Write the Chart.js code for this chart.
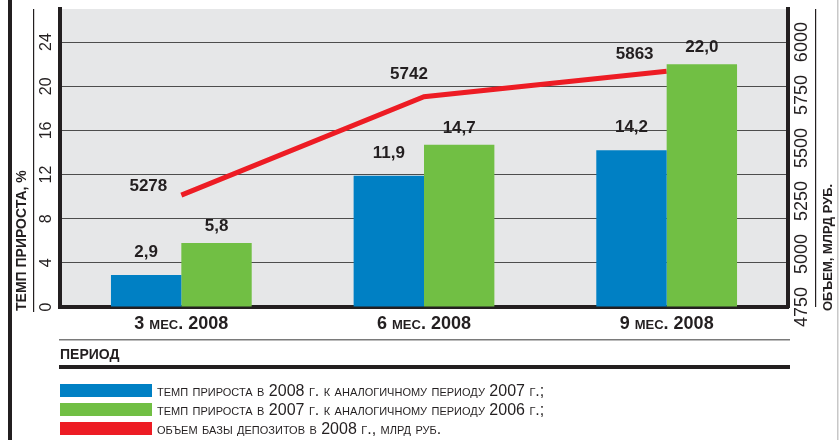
<!DOCTYPE html>
<html>
<head>
<meta charset="utf-8">
<script src="https://cdn.jsdelivr.net/npm/chart.js@4.4.0/dist/chart.umd.min.js"></script>
<style>
	body { margin: 0; background: #fff; }
	#wrap { position: relative; width: 840px; height: 440px; overflow: hidden; }
	#mycanvas { position: absolute; left: 0; top: 0; }
	#legend { position: absolute; left: 60px; top: 381px; color: #231f20;
		font-family: "Liberation Sans Narrow", "Arial Narrow", sans-serif; font-size: 16px; font-variant: small-caps; }
	.row { height: 19px; display: flex; align-items: center; white-space: nowrap; }
	.box { width: 92px; height: 13px; margin-right: 5px; flex: none; }
</style>
</head>
<body>
<div id="wrap">
	<canvas id="mycanvas" width="840" height="440"></canvas>
	<div id="legend"></div>
</div>
<script>
var periods = ['3 мес. 2008', '6 мес. 2008', '9 мес. 2008'];
var growth2008 = [2.9, 11.9, 14.2];
var growth2007 = [5.8, 14.7, 22.0];
var deposits = [5278, 5742, 5863];
var leftTicks = [0, 4, 8, 12, 16, 20, 24];
var rightTicks = [4750, 5000, 5250, 5500, 5750, 6000];
var seriesNames = [
	'темп прироста в 2008 г. к аналогичному периоду 2007 г.;',
	'темп прироста в 2007 г. к аналогичному периоду 2006 г.;',
	'объем базы депозитов в 2008 г., млрд руб.'
];
var leftTitle = 'ТЕМП ПРИРОСТА, %';
var rightTitle = 'ОБЪЕМ, МЛРД РУБ.';
var xTitle = 'ПЕРИОД';

var BLUE = '#0080c4', GREEN = '#71bf44', RED = '#ed1c24', INK = '#231f20';
var NARROW = '"Liberation Sans Narrow", "Arial Narrow", sans-serif';
var SANS = '"Liberation Sans", Arial, sans-serif';

// legend (html)
var colors = [BLUE, GREEN, RED];
var lg = document.getElementById('legend');
for (var i = 0; i < seriesNames.length; i++) {
	var row = document.createElement('div');
	row.className = 'row';
	row.innerHTML = '<span class="box" style="background:' + colors[i] + '"></span><span>' + seriesNames[i] + '</span>';
	lg.appendChild(row);
}

function fmt(v) { return v.toFixed(1).replace('.', ','); }

function vText(c, txt, x, y, align) {
	c.save();
	c.translate(x, y);
	c.rotate(-Math.PI / 2);
	c.textAlign = align;
	c.textBaseline = 'middle';
	c.fillText(txt, 0, 0);
	c.restore();
}

var lineLabelOffsets = [[-33, -9], [-15, -22], [-32, -17]];
var barLabelGap = [14, 8];

var extras = {
	id: 'extras',
	beforeDraw: function(chart) {
		var a = chart.chartArea, c = chart.ctx;
		c.save();
		c.fillStyle = '#e6e7e8';
		c.fillRect(a.left, a.top, a.right - a.left, a.bottom - a.top);
		c.restore();
	},
	afterDatasetsDraw: function(chart) {
		var c = chart.ctx;
		c.save();
		c.fillStyle = INK;
		c.font = 'bold 17px ' + SANS;
		c.textAlign = 'center';
		c.textBaseline = 'bottom';
		[0, 1].forEach(function(d) {
			var meta = chart.getDatasetMeta(d);
			meta.data.forEach(function(bar, i) {
				c.fillText(fmt(chart.data.datasets[d].data[i]), bar.x, bar.y - barLabelGap[d]);
			});
		});
		c.textBaseline = 'middle';
		chart.getDatasetMeta(2).data.forEach(function(pt, i) {
			c.fillText(String(deposits[i]), pt.x + lineLabelOffsets[i][0], pt.y + lineLabelOffsets[i][1]);
		});
		c.restore();
	},
	afterDraw: function(chart) {
		var c = chart.ctx, a = chart.chartArea;
		var y = chart.scales.y, y1 = chart.scales.y1, x = chart.scales.x;
		c.save();
		c.fillStyle = INK;
		// tick labels
		c.font = '16px ' + SANS;
		leftTicks.forEach(function(v) { vText(c, String(v), a.left - 13, y.getPixelForValue(v), 'center'); });
		c.font = '18px ' + SANS;
		rightTicks.forEach(function(v) { vText(c, String(v), a.right + 14, y1.getPixelForValue(v), 'center'); });
		// axis titles
		c.font = 'bold 14px ' + NARROW;
		vText(c, leftTitle, 22, a.bottom + 4, 'left');
		c.font = 'bold 13px ' + NARROW;
		vText(c, rightTitle, 828, a.bottom + 4, 'left');
		// category labels
		c.font = 'bold 18px ' + NARROW;
		c.fontVariantCaps = 'small-caps';
		c.textAlign = 'center';
		c.textBaseline = 'middle';
		periods.forEach(function(p, i) { c.fillText(p, x.getPixelForValue(i), a.bottom + 17); });
		c.fontVariantCaps = 'normal';
		c.font = 'bold 14px ' + NARROW;
		c.textAlign = 'left';
		c.fillText(xTitle, a.left, a.bottom + 48);
		// frame lines
		c.fillStyle = INK;
		c.fillRect(8, 0, 4, 440);
		c.fillRect(33, a.top, 1.2, a.bottom - a.top + 5);
		c.fillRect(815, a.top, 1.2, a.bottom - a.top);
		c.fillStyle = '#c8c8c8';
		c.fillRect(837, 0, 1.5, 440);
		c.fillStyle = '#7a7a7a';
		c.fillRect(a.left - 1, a.bottom + 32, a.right - a.left + 3, 1.5);
		c.fillStyle = INK;
		c.fillRect(a.left - 1, a.bottom + 58, a.right - a.left + 3, 4);
		c.restore();
	}
};

var ctx = document.getElementById('mycanvas');

var chart = new Chart(ctx, {
	type: 'bar',
	data: {
		labels: periods,
		datasets: [
			{ label: seriesNames[0], data: growth2008, backgroundColor: BLUE, yAxisID: 'y', order: 1,
				barPercentage: 1, categoryPercentage: 0.58 },
			{ label: seriesNames[1], data: growth2007, backgroundColor: GREEN, yAxisID: 'y', order: 1,
				barPercentage: 1, categoryPercentage: 0.58 },
			{ type: 'line', label: seriesNames[2], data: deposits, yAxisID: 'y1', order: 2,
				borderColor: RED, borderWidth: 5, pointRadius: 0, tension: 0, fill: false, borderCapStyle: 'butt' }
		]
	},
	options: {
		responsive: false,
		animation: false,
		layout: { padding: { top: 9, left: 0, right: 0, bottom: 0 } },
		plugins: { legend: { display: false }, tooltip: { enabled: false } },
		scales: {
			x: {
				grid: { display: false },
				ticks: { display: false },
				border: { display: true, color: INK, width: 4 },
				afterFit: function(s) { s.height = 133; }
			},
			y: {
				position: 'left',
				min: 0,
				max: 27,
				ticks: { display: false, stepSize: 4 },
				afterBuildTicks: function(s) { s.ticks = leftTicks.map(function(v) { return { value: v }; }); },
				grid: { color: '#4d4d4d', lineWidth: 1, drawTicks: false },
				border: { display: true, color: INK, width: 4 },
				afterFit: function(s) { s.width = 60; }
			},
			y1: {
				position: 'right',
				min: 4750,
				max: 4750 + 27 / 24 * 1250,
				ticks: { display: false },
				afterBuildTicks: function(s) { s.ticks = rightTicks.map(function(v) { return { value: v }; }); },
				grid: { drawOnChartArea: false, drawTicks: false },
				border: { display: true, color: INK, width: 4 },
				afterFit: function(s) { s.width = 52; }
			}
		}
	},
	plugins: [extras]
});
</script>
</body>
</html>
